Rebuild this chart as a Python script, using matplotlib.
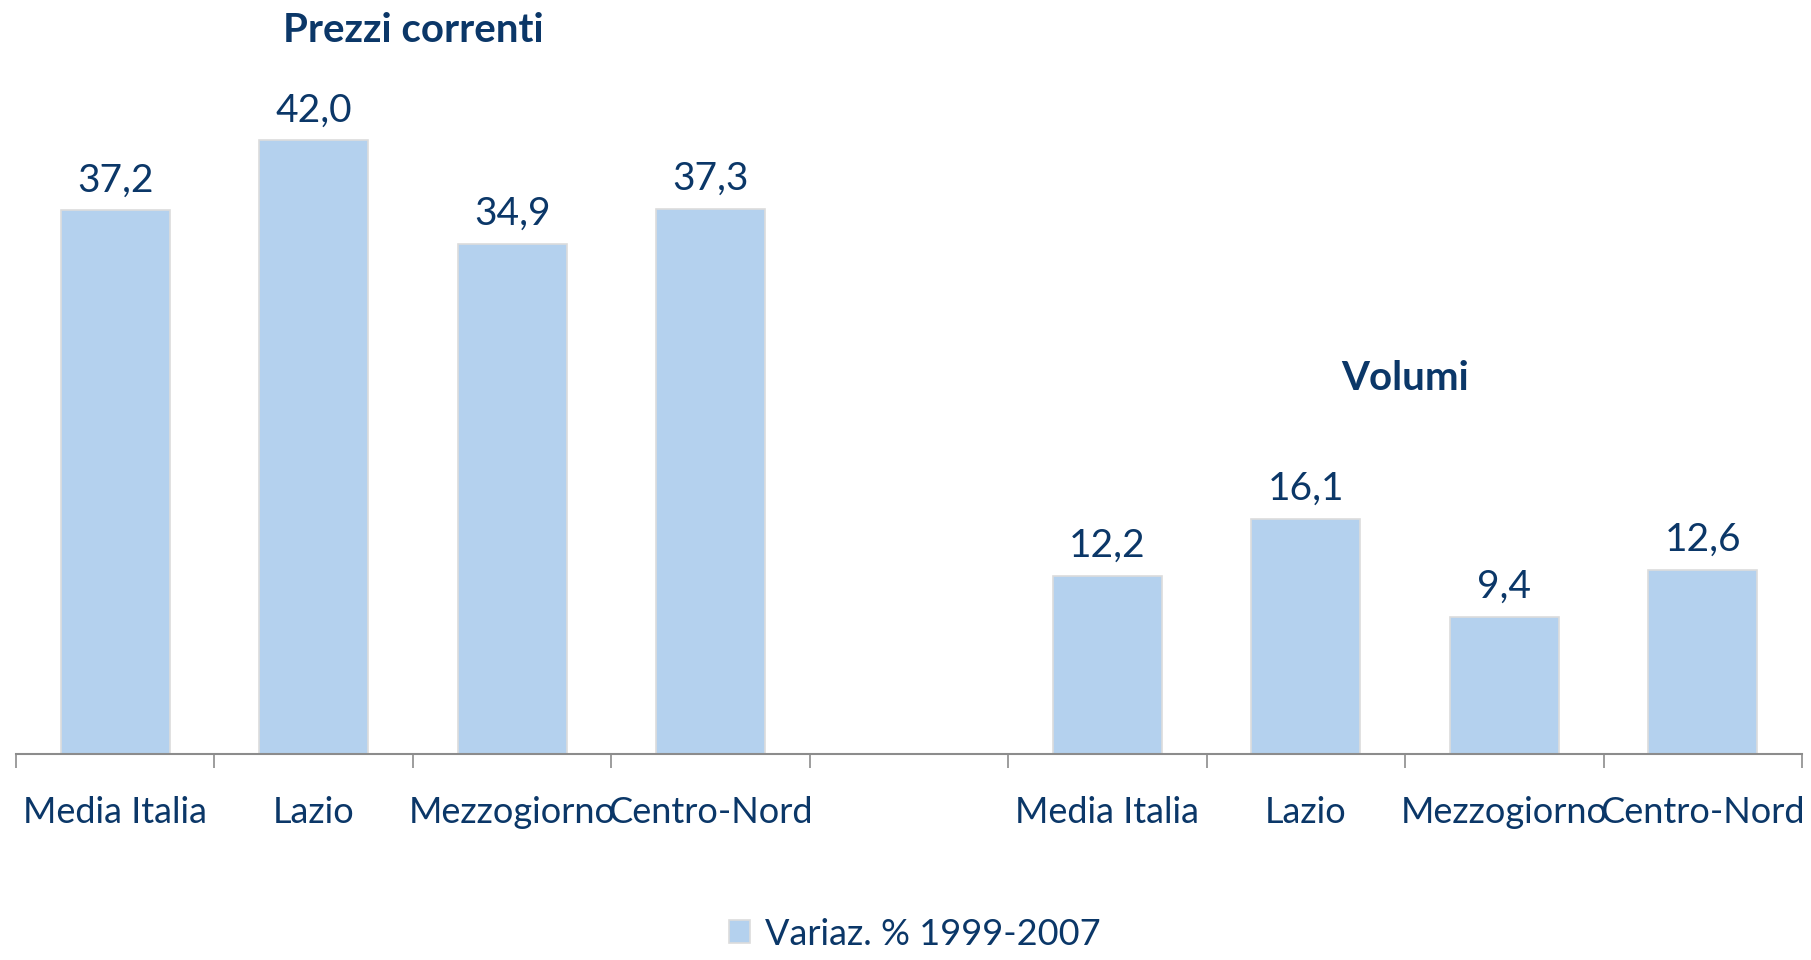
import matplotlib.pyplot as plt
import numpy as np

categories = ['Media Italia', 'Lazio', 'Mezzogiorno', 'Centro-Nord']
prezzi = [37.2, 42.0, 34.9, 37.3]
volumi = [12.2, 16.1, 9.4, 12.6]
group_titles = ['Prezzi correnti', 'Volumi']
legend_label = 'Variaz. % 1999-2007'

navy = '#0b3768'
bar_col = '#b4d1ee'
plt.rcParams['font.family'] = ['Lato', 'DejaVu Sans']

fig = plt.figure(figsize=(18.11, 9.6), dpi=100)
ax = fig.add_axes([16/1811, 1-754/960, (1802-16)/1811, 51*14.62/960])

x1 = np.arange(4)
x2 = np.arange(5, 9)
vals = prezzi + volumi
xs = np.concatenate([x1, x2])
bars = ax.bar(xs, vals, width=0.55, color=bar_col, edgecolor='#dcdcdc', linewidth=1.2,
              label=legend_label, zorder=2)
for xi, v in zip(xs, vals):
    ax.text(xi, v + 0.8, ('%.1f' % v).replace('.', ','), ha='center', va='bottom',
            fontsize=28, color=navy)

ax.text(1.5, 49.5, group_titles[0], ha='center', va='center', fontsize=29,
        fontweight='bold', color=navy)
ax.text(6.5, 25.7, group_titles[1], ha='center', va='center', fontsize=29,
        fontweight='bold', color=navy)

ax.set_xlim(-0.5, 8.5)
ax.set_ylim(0, 51)
ax.set_xticks(xs)
ax.set_xticklabels(categories + categories, fontsize=26, color=navy)
ax.tick_params(axis='x', which='major', length=0, pad=30)
ax.set_xticks(np.arange(-0.5, 9, 1), minor=True)
ax.tick_params(axis='x', which='minor', length=10, width=1.2, color='#8c8c8c')
ax.set_yticks([])
for s in ['top', 'right', 'left']:
    ax.spines[s].set_visible(False)
ax.spines['bottom'].set_color('#8c8c8c')
ax.spines['bottom'].set_linewidth(1.5)

leg = fig.legend(handles=[bars], labels=[legend_label], loc='lower center',
                 bbox_to_anchor=(0.505, -0.024), frameon=False, fontsize=26,
                 handlelength=0.6, handleheight=0.6, handletextpad=0.4)
for t in leg.get_texts():
    t.set_color(navy)

fig.savefig('out.png', dpi=100)
